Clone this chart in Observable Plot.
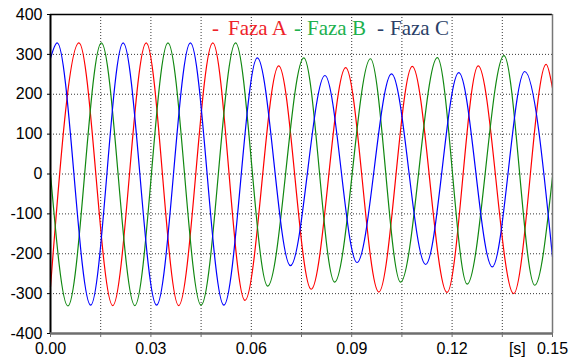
<!DOCTYPE html>
<html><head><meta charset="utf-8">
<script src="https://cdn.jsdelivr.net/npm/d3@7"></script>
<script src="https://cdn.jsdelivr.net/npm/@observablehq/plot@0.6"></script>
<style>
body{margin:0;background:#fff;}
#wrap{position:relative;width:569px;height:358px;}
#legend span{position:absolute;top:18px;font-family:"Liberation Serif","Times New Roman",serif;font-size:21px;line-height:21px;white-space:pre;}
</style></head><body>
<div id="wrap"><div id="legend"></div></div>
<script>
// Phase A (red): extrema
const tA = [0, 0.0085, 0.0186, 0.0286, 0.0383, 0.0485, 0.0581, 0.0682, 0.0779, 0.0882, 0.0981, 0.1081, 0.1185, 0.1278, 0.1384, 0.1481, 0.15];
const vA = [-283, 329, -330, 329, -330, 329, -317, 271, -289, 267, -296, 270, -297, 271, -300, 275, 215];
// Phase B (green)
const tB = [0, 0.0052, 0.0152, 0.0252, 0.0351, 0.0450, 0.0553, 0.0649, 0.0757, 0.0849, 0.0956, 0.1046, 0.1156, 0.1245, 0.1355, 0.1447, 0.15];
const vB = [0, -331, 329, -330, 329, -329, 329, -281, 291, -271, 289, -271, 292, -276, 297, -279, -7];
// Phase C (blue)
const tC = [0, 0.0020, 0.0120, 0.0217, 0.0317, 0.0418, 0.0518, 0.0618, 0.0717, 0.0820, 0.0916, 0.1019, 0.1121, 0.1220, 0.1320, 0.1417, 0.15];
const vC = [290, 329, -329, 329, -329, 329, -329, 291, -230, 247, -222, 251, -227, 254, -233, 257, -208];

const xLabelTicks = [0, 0.03, 0.06, 0.09, 0.12, 0.15];
const xGridTicks = [0.015, 0.03, 0.045, 0.06, 0.075, 0.09, 0.105, 0.12, 0.135];
const xMinorTicks = [0, 0.015, 0.03, 0.045, 0.06, 0.075, 0.09, 0.105, 0.12, 0.135, 0.15];
const yTicks = [-400, -300, -200, -100, 0, 100, 200, 300, 400];
const yGridTicks = [-300, -200, -100, 0, 100, 200, 300];
const unitLabel = [{x: 0.1395, text: "[s]"}];

const legendItems = [
  {text: "-", color: "#ee2229"}, {text: "Faza A", color: "#ee2229"},
  {text: "-", color: "#20b04e"}, {text: "Faza B", color: "#20b04e"},
  {text: "-", color: "#2b3f68"}, {text: "Faza C", color: "#2b3f68"}
];
const legendLeft = [212, 228, 294, 307, 377, 390];

const rows = (ts, vs) => ts.map((t, i) => ({t, v: vs[i]}));

const chart = Plot.plot({
  width: 569, height: 358,
  marginLeft: 50, marginRight: 17, marginTop: 14, marginBottom: 25,
  style: {fontFamily: "'Liberation Sans', Arial, sans-serif", fontSize: "16px", color: "#000", background: "#fff"},
  x: {domain: [0, 0.15]},
  y: {domain: [-400, 400]},
  marks: [
    Plot.gridX(xGridTicks, {stroke: "#222", strokeOpacity: 0.9, strokeDasharray: "1,2"}),
    Plot.gridY(yGridTicks, {stroke: "#222", strokeOpacity: 0.9, strokeDasharray: "1,2"}),
    Plot.line(rows(tA, vA), {x: "t", y: "v", stroke: "#ff0000", strokeWidth: 1.2, curve: "monotone-x"}),
    Plot.line(rows(tB, vB), {x: "t", y: "v", stroke: "#118811", strokeWidth: 1.2, curve: "monotone-x"}),
    Plot.line(rows(tC, vC), {x: "t", y: "v", stroke: "#0000ff", strokeWidth: 1.2, curve: "monotone-x"}),
    Plot.ruleY([400], {stroke: "#000", strokeWidth: 1.5}),
    Plot.ruleX([0.15], {stroke: "#777", strokeWidth: 1.5}),
    Plot.ruleX([0], {stroke: "#000", strokeWidth: 2}),
    Plot.ruleY([-400], {stroke: "#6e6e6e", strokeWidth: 2.5}),
    Plot.axisX(xMinorTicks, {tickSize: 4, tickFormat: () => "", stroke: "#6e6e6e", label: null}),
    Plot.axisX(xLabelTicks, {tickSize: 0, tickPadding: 9, tickFormat: d => d.toFixed(2), label: null}),
    Plot.text(unitLabel, {x: "x", text: "text", frameAnchor: "bottom", lineAnchor: "top", dy: 9, fontSize: 16}),
    Plot.axisY(yTicks, {tickSize: 3, tickPadding: 5, tickFormat: d => String(d), label: null})
  ]
});
const wrap = document.getElementById("wrap");
wrap.insertBefore(chart, wrap.firstChild);
const leg = document.getElementById("legend");
legendItems.forEach((it, i) => {
  const s = document.createElement("span");
  s.textContent = it.text;
  s.style.color = it.color;
  s.style.left = legendLeft[i] + "px";
  leg.appendChild(s);
});
</script>
</body></html>
